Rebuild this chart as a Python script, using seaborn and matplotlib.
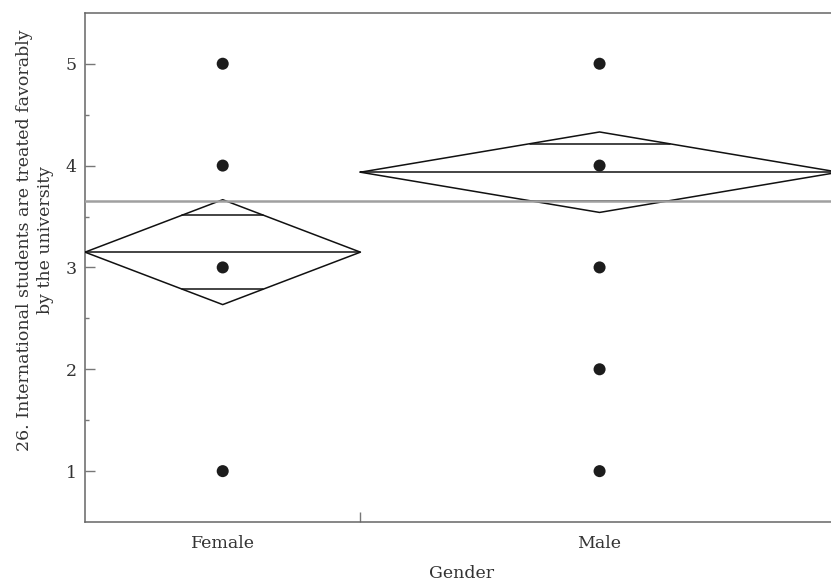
import matplotlib
matplotlib.use("Agg")
import matplotlib.pyplot as plt
import seaborn as sns
import numpy as np
import pandas as pd

# data
groups = ["Female", "Male"]
group_n = [19, 33]                     # group sizes (set the widths of the x slots)
group_means = [3.15, 3.935]            # diamond centres
ci_half = [0.515, 0.395]               # 95% CI half width (diamond top/bottom)
grand_mean = 3.648
female_values = [1, 3, 4, 5]
male_values = [1, 2, 3, 4, 5]

sns.set_theme(style="white")
plt.rcParams["font.family"] = ["DejaVu Serif"]

fig = plt.figure(figsize=(8.31, 5.82), dpi=100)
ax = fig.add_axes([0.1023, 0.103, 0.907, 0.875])

# x slot for each group is proportional to its size
edges = np.concatenate([[0], np.cumsum(group_n)])
centers = (edges[:-1] + edges[1:]) / 2

pts = pd.DataFrame({
    "x": [centers[0]] * len(female_values) + [centers[1]] * len(male_values),
    "y": female_values + male_values,
})
sns.scatterplot(data=pts, x="x", y="y", ax=ax, s=75, color="#1c1c1c",
                edgecolor="none", zorder=4)

# means diamonds
for i in range(len(groups)):
    lo, hi, c = edges[i], edges[i + 1], centers[i]
    m, h = group_means[i], ci_half[i]
    ax.plot([lo, c, hi, c, lo], [m, m + h, m, m - h, m], color="#111111", lw=1.1, zorder=3)
    ax.plot([lo, hi], [m, m], color="#111111", lw=1.1, zorder=3)
    # overlap marks
    d = h / np.sqrt(2)
    hw = (hi - lo) / 2 * (1 - d / h)
    for yy in (m + d, m - d):
        ax.plot([c - hw, c + hw], [yy, yy], color="#111111", lw=1.1, zorder=3)

ax.axhline(grand_mean, color="#a0a0a0", lw=1.8, zorder=5)

ax.set_xlim(edges[0], edges[-1])
ax.set_ylim(0.5, 5.5)
ax.set_yticks([1, 2, 3, 4, 5])
ax.set_yticks(np.arange(1.5, 5.0, 1.0), minor=True)
ax.set_xticks(centers)
ax.set_xticklabels(groups)
ax.set_xticks(edges[1:-1], minor=True)

ax.tick_params(axis="y", which="major", direction="in", length=7, width=1,
               color="#777777", labelsize=12.5, pad=6, left=True)
ax.tick_params(axis="y", which="minor", direction="in", length=3, width=1,
               color="#777777", left=True)
ax.tick_params(axis="x", which="major", length=0, labelsize=12.5, pad=9)
ax.tick_params(axis="x", which="minor", direction="in", length=7, width=1,
               color="#777777", bottom=True)

for side in ["left", "bottom", "top"]:
    ax.spines[side].set_color("#666666")
    ax.spines[side].set_linewidth(1.1)
ax.spines["right"].set_visible(False)

ax.set_xlabel("Gender", fontsize=12.5, color="#333333", labelpad=10)
ax.set_ylabel("26. International students are treated favorably\nby the university",
              fontsize=12.5, color="#333333", linespacing=1.35)
ax.yaxis.set_label_coords(-0.041, 0.554)
ax.tick_params(labelcolor="#333333")

fig.savefig("out.png", dpi=100)
